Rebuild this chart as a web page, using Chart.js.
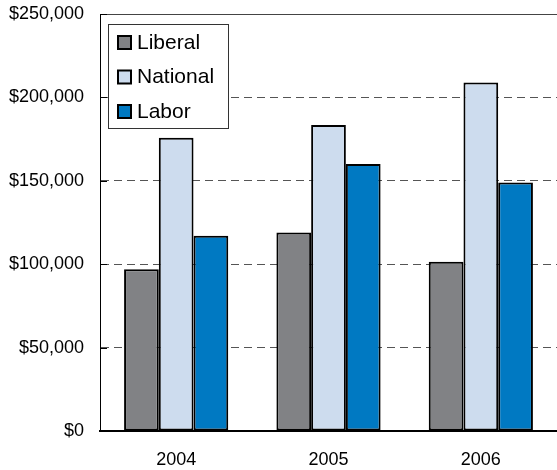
<!DOCTYPE html>
<html>
<head>
<meta charset="utf-8">
<script src="https://cdn.jsdelivr.net/npm/chart.js@4"></script>
<style>
  body { margin: 0; background: #fff; }
</style>
</head>
<body>
<canvas id="chart" width="557" height="470"></canvas>
<script>
// data
var years = ['2004', '2005', '2006'];
var liberal = [97000, 119000, 101500];
var national = [175800, 183500, 209000];
var labor = [117000, 160000, 149000];
var yTicks = [0, 50000, 100000, 150000, 200000, 250000];

var FONT = 'Arial, "Liberation Sans", sans-serif';

// legend drawn inside the plot, top left
var boxLegend = {
    id: 'boxLegend',
    afterDraw: function (chart) {
        var ctx = chart.ctx;
        var x = 108, y = 24, w = 120, h = 104;
        ctx.save();
        ctx.fillStyle = '#fff';
        ctx.fillRect(x, y, w, h);
        ctx.strokeStyle = '#333';
        ctx.lineWidth = 1;
        ctx.strokeRect(x + 0.5, y + 0.5, w, h);
        ctx.font = '21px ' + FONT;
        ctx.textBaseline = 'middle';
        chart.data.datasets.forEach(function (ds, i) {
            var cy = 42 + i * 34.5;
            ctx.fillStyle = ds.backgroundColor;
            ctx.fillRect(118, cy - 6, 13, 13);
            ctx.strokeStyle = '#000';
            ctx.lineWidth = 2;
            ctx.strokeRect(118, cy - 6, 13, 13);
            ctx.fillStyle = '#000';
            ctx.fillText(ds.label, 137, cy + 1);
        });
        ctx.restore();
    }
};

// solid top line and short inward ticks on the value axis
var axisExtras = {
    id: 'axisExtras',
    beforeDatasetsDraw: function (chart) {
        var ctx = chart.ctx, a = chart.chartArea, ys = chart.scales.y;
        ctx.save();
        ctx.strokeStyle = '#444';
        ctx.lineWidth = 1;
        ctx.beginPath();
        ctx.moveTo(a.left, Math.round(a.top) + 0.5);
        ctx.lineTo(a.right, Math.round(a.top) + 0.5);
        ctx.stroke();
        ctx.strokeStyle = '#000';
        yTicks.forEach(function (v) {
            var py = Math.round(ys.getPixelForValue(v)) + 0.5;
            ctx.beginPath();
            ctx.moveTo(a.left, py);
            ctx.lineTo(a.left + 7, py);
            ctx.stroke();
        });
        ctx.restore();
    }
};

new Chart(document.getElementById('chart'), {
    type: 'bar',
    data: {
        labels: years,
        datasets: [
            { label: 'Liberal', data: liberal, backgroundColor: '#818285' },
            { label: 'National', data: national, backgroundColor: '#cddcee' },
            { label: 'Labor', data: labor, backgroundColor: '#0079c2' }
        ]
    },
    options: {
        responsive: false,
        animation: false,
        layout: { padding: 0 },
        datasets: {
            bar: {
                borderColor: '#000',
                borderWidth: 2,
                borderSkipped: false,
                barPercentage: 1,
                categoryPercentage: 0.684
            }
        },
        plugins: {
            legend: { display: false },
            tooltip: { enabled: false }
        },
        scales: {
            x: {
                grid: { display: false },
                border: { color: '#000', width: 2 },
                ticks: { color: '#000', font: { family: FONT, size: 18 }, padding: 10 },
                afterFit: function (s) { s.height = 39; s.paddingLeft = 0; s.paddingRight = 0; }
            },
            y: {
                min: 0,
                max: 250000,
                afterBuildTicks: function (s) {
                    s.ticks = yTicks.map(function (v) { return { value: v }; });
                },
                grid: {
                    drawTicks: false,
                    color: function (c) {
                        return (c.tick && (c.tick.value === 250000 || c.tick.value === 0)) ? 'rgba(0,0,0,0)' : '#555';
                    }
                },
                border: { color: '#000', width: 1, dash: [8, 5] },
                ticks: {
                    color: '#000',
                    padding: 16,
                    font: { family: FONT, size: 18 },
                    callback: function (v) { return '$' + v.toLocaleString('en-US'); }
                },
                afterFit: function (s) { s.width = 100; s.paddingTop = 14; s.paddingBottom = 0; }
            }
        }
    },
    plugins: [axisExtras, boxLegend]
});
</script>
</body>
</html>
